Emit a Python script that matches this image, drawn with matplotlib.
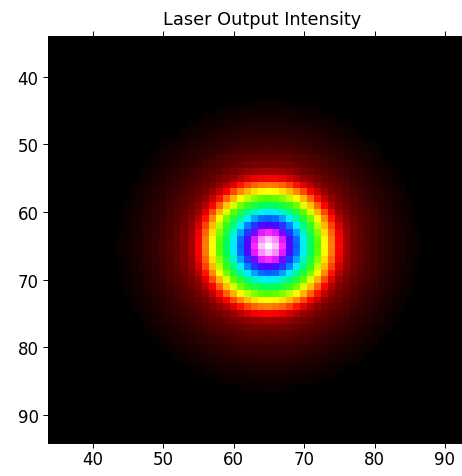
import numpy as np
import matplotlib
matplotlib.use("Agg")
import matplotlib.pyplot as plt
from matplotlib.colors import LinearSegmentedColormap

# Beam parameters (pixel units of the camera grid)
beam_center_x = 65
beam_center_y = 65
beam_waist = 16.0          # 1/e^2 radius of the Gaussian intensity profile
grid_pixels = np.arange(28, 103)

x_ticks = [40, 50, 60, 70, 80, 90]
y_ticks = [40, 50, 60, 70, 80, 90]
x_limits = (33.7, 94.3)
y_limits = (94.1, 34.0)

# Colour scale: colour reached at a given distance from the beam centre
scale_radius = [0, 1, 2, 3, 4, 5, 6, 7, 8, 9, 10, 11, 12, 13, 14, 15, 16,
                17, 18, 19, 20, 21, 21.8]
scale_color = ["#ffffff", "#ffb0ff", "#ff20ff", "#5000ff", "#0060ff",
               "#00f0ff", "#00ff60", "#50ff00", "#ffff00", "#ff8000",
               "#ff0000", "#a00000", "#780000", "#600000", "#500000",
               "#400000", "#330000", "#2a0000", "#200000", "#180000",
               "#100000", "#0a0000", "#000000"]

# Intensity on the detector grid
X, Y = np.meshgrid(grid_pixels, grid_pixels)
R2 = (X - beam_center_x) ** 2 + (Y - beam_center_y) ** 2
intensity = np.exp(-2.0 * R2 / beam_waist ** 2)

# Build the colormap in intensity space
levels = np.exp(-2.0 * np.array(scale_radius) ** 2 / beam_waist ** 2)
nodes = [(0.0, "#000000")] + sorted(zip(levels, scale_color))
nodes[-1] = (1.0, nodes[-1][1])
laser_cmap = LinearSegmentedColormap.from_list("laser", nodes, N=512)

plt.rcParams["font.family"] = ["DejaVu Sans"]
fig = plt.figure(figsize=(4.62, 4.77), dpi=100)
ax = fig.add_axes([48.3 / 462, 33.3 / 477,
                   (x_limits[1] - x_limits[0]) * 7.046 / 462, 406.4 / 477])

ax.imshow(intensity, cmap=laser_cmap, vmin=0, vmax=1, origin="upper",
          interpolation="nearest", aspect="auto",
          extent=(grid_pixels[0] - 0.5, grid_pixels[-1] + 0.5,
                  grid_pixels[-1] + 0.5, grid_pixels[0] - 0.5))
ax.set_xlim(*x_limits)
ax.set_ylim(*y_limits)
ax.set_xticks(x_ticks)
ax.set_yticks(y_ticks)

ax.tick_params(direction="out", length=3.5, width=0.7, top=True, right=True,
               labelsize=12, colors="black")
ax.tick_params(axis="x", pad=1.5)
ax.tick_params(axis="y", pad=3.5)
for s in ax.spines.values():
    s.set_linewidth(0.7)
    s.set_color("black")

ax.set_title("Laser Output Intensity", fontsize=12.8, pad=9)

fig.savefig("out.png", dpi=100)
